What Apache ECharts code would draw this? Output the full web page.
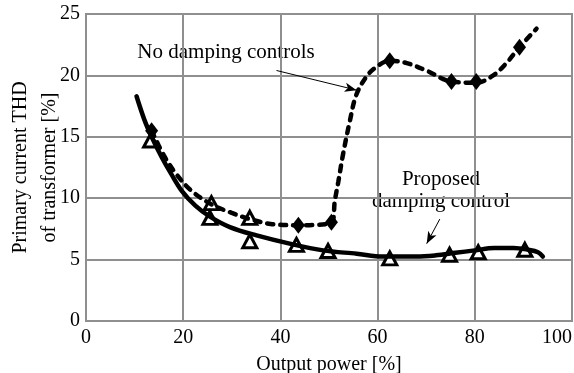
<!DOCTYPE html>
<html>
<head>
<meta charset="utf-8">
<script src="https://cdn.jsdelivr.net/npm/echarts@6/dist/echarts.min.js"></script>
<style>
    html, body { margin: 0; padding: 0; background: #fff; }
    #thdChart { width: 574px; height: 373px; }
</style>
</head>
<body>
<div id="thdChart"></div>
<script>
    // x ticks / y ticks
    const xTicks = [0, 20, 40, 60, 80, 100]
    const yTicks = [0, 5, 10, 15, 20, 25]

    // fitted curves [output power %, THD %]
    const noDampingCurve = [
        [13.5, 15.5], [16, 13.5], [18.5, 12.0], [21.7, 10.6], [25.8, 9.5], [30, 8.8],
        [33.7, 8.3], [38, 7.9], [43.7, 7.8], [50.5, 8.0], [51.2, 9.8], [51.9, 11.3],
        [52.9, 13.6], [54.3, 16.3], [55.6, 18.4], [57.7, 19.9], [59.8, 20.7], [62.5, 21.2],
        [66, 21.0], [70, 20.4], [75.2, 19.5], [80.3, 19.4], [83.8, 20.0], [86.5, 21.0],
        [89.2, 22.3], [92.7, 23.8]
    ]
    const proposedCurve = [
        [10.4, 18.3], [12, 16.4], [13.5, 15.0], [15.5, 13.4], [17.5, 12.0], [19.7, 10.6],
        [22.5, 9.4], [25.5, 8.5], [29.6, 7.65], [35.1, 6.97], [41.9, 6.3], [48.8, 5.75],
        [55.7, 5.48], [61.1, 5.25], [68, 5.25], [72, 5.35], [76, 5.55], [80, 5.75],
        [84, 5.95], [88, 5.95], [91, 5.8], [93, 5.6], [94, 5.25]
    ]

    // measured points
    const noDampingDiamonds = [[13.5, 15.5], [43.7, 7.8], [50.5, 8.05], [62.5, 21.2], [75.2, 19.5], [80.3, 19.5], [89.2, 22.3]]
    const noDampingTriangles = [[25.8, 9.6], [33.7, 8.4]]
    const proposedTriangles = [[13.3, 14.7], [25.5, 8.4], [33.7, 6.5], [43.3, 6.2], [49.8, 5.7], [62.5, 5.1], [74.8, 5.4], [80.7, 5.6], [90.3, 5.8]]

    const gridColor = '#8f8f8f'
    const font = '"Liberation Serif", "Times New Roman", serif'

    let myChart = echarts.init(document.getElementById('thdChart'), null, {renderer: 'canvas'})

    let option = {
        animation: false,
        textStyle: {fontFamily: font, color: '#000'},
        grid: {
            left: 86,
            right: 2,
            top: 14,
            bottom: 52,
            outerBoundsMode: 'none',
            containLabel: false,
            show: true,
            borderColor: gridColor,
            borderWidth: 2
        },
        xAxis: {
            type: 'value',
            min: xTicks[0],
            max: xTicks[xTicks.length - 1],
            interval: 20,
            name: 'Output power [%]',
            nameLocation: 'middle',
            nameGap: 33.5,
            nameMoveOverlap: false,
            nameTextStyle: {fontFamily: font, fontSize: 20, color: '#000'},
            axisLine: {show: true, lineStyle: {color: gridColor, width: 2}},
            axisTick: {show: false},
            axisLabel: {fontFamily: font, fontSize: 20, color: '#000', margin: 7, alignMaxLabel: 'right'},
            splitLine: {show: true, lineStyle: {color: gridColor, width: 2}}
        },
        yAxis: {
            type: 'value',
            min: yTicks[0],
            max: yTicks[yTicks.length - 1],
            interval: 5,
            name: 'Primary current THD\nof transformer [%]',
            nameLocation: 'middle',
            nameGap: 22,
            nameMoveOverlap: false,
            nameTextStyle: {fontFamily: font, fontSize: 20, color: '#000', lineHeight: 29, align: 'center'},
            axisLine: {show: true, lineStyle: {color: gridColor, width: 2}},
            axisTick: {show: false},
            axisLabel: {fontFamily: font, fontSize: 20, color: '#000', margin: 6},
            splitLine: {show: true, lineStyle: {color: gridColor, width: 2}}
        },
        series: [
            {
                name: 'No damping controls',
                type: 'line',
                data: noDampingCurve,
                smooth: 0.35,
                showSymbol: false,
                lineStyle: {color: '#000', width: 4.5, type: [6, 7], cap: 'round'},
                markLine: {
                    silent: true,
                    symbol: ['none', 'arrow'],
                    symbolSize: [7, 12],
                    label: {show: false},
                    lineStyle: {color: '#000', width: 1, type: 'solid'},
                    data: [
                        [{coord: [39.2, 20.4]}, {coord: [55.7, 18.8]}],
                        [{coord: [72.8, 8.3]}, {coord: [70.1, 6.3]}]
                    ]
                }
            },
            {
                name: 'Proposed damping control',
                type: 'line',
                data: proposedCurve,
                smooth: 0.35,
                showSymbol: false,
                lineStyle: {color: '#000', width: 4.5, cap: 'round', join: 'round'}
            },
            {
                type: 'scatter',
                data: noDampingDiamonds,
                symbol: 'diamond',
                symbolSize: [13, 17],
                itemStyle: {color: '#000', opacity: 1}
            },
            {
                type: 'scatter',
                data: noDampingTriangles.concat(proposedTriangles),
                symbol: 'triangle',
                symbolSize: [14, 13],
                itemStyle: {color: '#fff', borderColor: '#000', borderWidth: 3, opacity: 1}
            }
        ],
        graphic: [
            {
                type: 'text',
                x: 226,
                y: 52,
                style: {
                    text: 'No damping controls',
                    font: '21px ' + font,
                    fill: '#000',
                    textAlign: 'center',
                    textVerticalAlign: 'middle'
                }
            },
            {
                type: 'text',
                x: 441,
                y: 168,
                style: {
                    text: 'Proposed\ndamping control',
                    font: '21px ' + font,
                    lineHeight: 22,
                    fill: '#000',
                    textAlign: 'center',
                    textVerticalAlign: 'top'
                }
            }
        ]
    }
    myChart.setOption(option)
</script>
</body>
</html>
